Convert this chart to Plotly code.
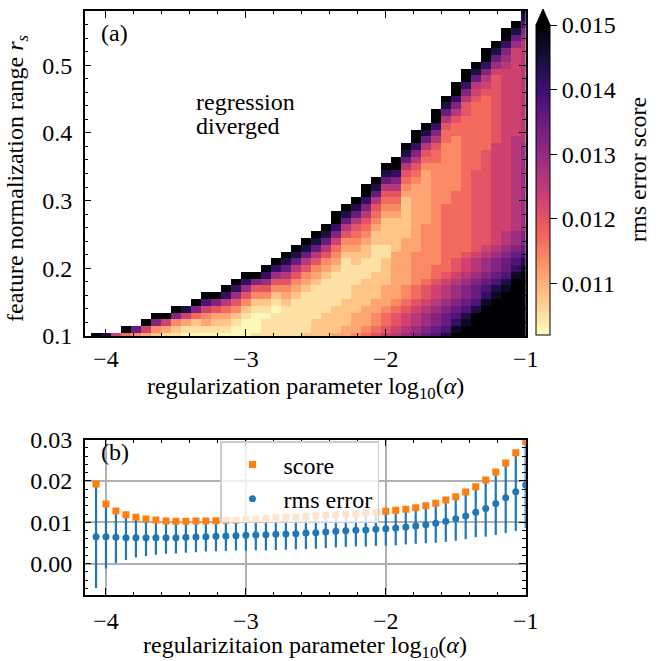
import plotly.graph_objects as go

# ---------------- data ----------------
log_alpha = [-4.071, -4.0, -3.929, -3.857, -3.786, -3.714, -3.643, -3.571, -3.5, -3.429,
             -3.357, -3.286, -3.214, -3.143, -3.071, -3.0, -2.929, -2.857, -2.786, -2.714,
             -2.643, -2.571, -2.5, -2.429, -2.357, -2.286, -2.214, -2.143, -2.071, -2.0,
             -1.929, -1.857, -1.786, -1.714, -1.643, -1.571, -1.5, -1.429, -1.357, -1.286,
             -1.214, -1.143, -1.071, -1.0]

r_s = [0.10, 0.11, 0.12, 0.13, 0.14, 0.15, 0.16, 0.17, 0.18, 0.19,
       0.20, 0.21, 0.22, 0.23, 0.24, 0.25, 0.26, 0.27, 0.28, 0.29,
       0.30, 0.31, 0.32, 0.33, 0.34, 0.35, 0.36, 0.37, 0.38, 0.39,
       0.40, 0.41, 0.42, 0.43, 0.44, 0.45, 0.46, 0.47, 0.48, 0.49,
       0.50, 0.51, 0.52, 0.53, 0.54, 0.55, 0.56, 0.57, 0.58]

# colour-level codes (value of each code)
level_value = {'0': 0.01025, '1': 0.0105, '2': 0.0108, '3': 0.0111, '4': 0.0114,
               '5': 0.0117, '6': 0.0120, '7': 0.0123, '8': 0.0126, '9': 0.0129,
               'A': 0.0132, 'B': 0.0135, 'C': 0.0138, 'D': 0.0141, 'E': 0.0144,
               'F': 0.0147, 'G': 0.0155}

# one string per alpha column, from r_s = 0.10 upwards; cells above the end diverged
score_columns = [
    "G",
    "E",
    "7",
    "5G",
    "4B",
    "37G",
    "24AG",
    "137G",
    "124AG",
    "0137E",
    "0125AG",
    "01347CG",
    "01236AG",
    "012358DG",
    "0012469DG",
    "00012469DG",
    "10001246AG",
    "111012469DG",
    "1111012469DG",
    "1111123468BEG",
    "11111123468BEG",
    "211111123468BEG",
    "2221111123468BEG",
    "22221111123468BEG",
    "322221111123457ADGG",
    "33222211111123468BEG",
    "433322221112234568BEG",
    "5433322221112234568ADGG",
    "654433222211112234568BEG",
    "76554333222211222234568BEG",
    "876654333" "3333" "22222" "34568ADGG",
    "98776544333" "3333" "222222" "34568BEG",
    "A98876554" "4444" "3333333333" "4568ADGG",
    "BA998766544" "444444" "33333333" "4568BEG",
    "CBAA98776554" "4444444444" "4444" "5568ADGG",
    "ECBBA9887655" "55555555" "444444444" "5568BEG",
    "GFDCBA9987665" "555555555" "44444444" "5568ADGG",
    "GGFECBAA9877655" "5555555555" "5555555" "5668ADGG",
    "GGGGECBBA98876" "66666666666" "5555555555" "678BEG",
    "GGGGGFDCBA998766" "666666666666" "55555555" "678ADGG",
    "GGGGGGFECBAA9877" "7777777777777" "6666666666" "79BEG",
    "GGGGGGGFECBBA9887" "7777777777" "7777777777" "777" "89ADGG",
    "GGGGGGGGGFDCBA998" "8888888888888" "7777777777777" "9BEG",
    "GGGGGGGGGGFECBAA9" "999999999999" "888888888888888" "9ACEF",
]

# panel (b)
score = [0.01925, 0.01442, 0.01273, 0.01184, 0.01121, 0.0108, 0.01056, 0.01031, 0.01023, 0.01023,
         0.01031, 0.01031, 0.01039, 0.01047, 0.01056, 0.01072, 0.0108, 0.01097, 0.01112, 0.01121,
         0.01128, 0.01144, 0.0116, 0.01169, 0.01184, 0.012, 0.01208, 0.01224, 0.0124, 0.01265,
         0.0129, 0.01314, 0.01353, 0.01401, 0.01458, 0.01539, 0.01619, 0.01731, 0.0186, 0.02021,
         0.02215, 0.02432, 0.02681, 0.02947]
rms_error = [0.00653, 0.00653, 0.00637, 0.00629, 0.00629, 0.00629, 0.00629, 0.00629, 0.00629, 0.00637,
             0.00645, 0.00653, 0.00661, 0.00669, 0.00677, 0.00685, 0.00693, 0.00701, 0.00709, 0.00717,
             0.00725, 0.00742, 0.0075, 0.00766, 0.00782, 0.00798, 0.00806, 0.00814, 0.0083, 0.00846,
             0.00862, 0.00886, 0.00911, 0.00943, 0.00975, 0.01026, 0.01085, 0.01152, 0.0124, 0.01333,
             0.01455, 0.01592, 0.0174, 0.01901]
rms_std = [0.0124, 0.0077, 0.0062, 0.0054, 0.0048, 0.0044, 0.0041, 0.0039, 0.0038, 0.0037,
           0.0037, 0.0036, 0.0036, 0.0036, 0.0036, 0.0037, 0.0037, 0.0038, 0.0038, 0.0038,
           0.0038, 0.0039, 0.0039, 0.0039, 0.0039, 0.0039, 0.0039, 0.0040, 0.0040, 0.0041,
           0.0042, 0.0042, 0.0043, 0.0045, 0.0047, 0.0050, 0.0053, 0.0056, 0.0060, 0.0068,
           0.0076, 0.0085, 0.0095, 0.0104]

cbar_ticks = [0.011, 0.012, 0.013, 0.014, 0.015]

# ---------------- build grid ----------------
z = [[None] * len(log_alpha) for _ in r_s]
for c, col in enumerate(score_columns):
    for j, ch in enumerate(col):
        if j < len(r_s):
            z[j][c] = level_value[ch]

W, H = 668, 661
def px(x):
    return x / W
def py(y):
    return 1 - y / H

FONT = "Liberation Serif, Times New Roman, serif"
FS = 24

fig = go.Figure()

fig.add_trace(go.Heatmap(
    x=log_alpha, y=r_s, z=z, xaxis="x", yaxis="y",
    colorscale="Magma", reversescale=True, zmin=0.0102, zmax=0.015,
    hoverongaps=False,
    colorbar=dict(
        x=px(536), xanchor="left", y=py(180), yanchor="middle",
        len=310, lenmode="pixels", thickness=14, thicknessmode="pixels",
        xpad=0, ypad=0, outlinecolor="black", outlinewidth=1,
        tickvals=cbar_ticks, ticktext=[f"{v:.3f}" for v in cbar_ticks],
        ticks="outside", ticklen=7, tickwidth=1, tickcolor="black",
        tickfont=dict(family=FONT, size=FS, color="black"),
    ),
))

fig.add_trace(go.Scatter(
    x=log_alpha, y=rms_error, xaxis="x2", yaxis="y2", mode="markers", name="rms error",
    marker=dict(color="#1f77b4", size=7, symbol="circle"),
    error_y=dict(type="data", array=rms_std, color="#1f77b4", thickness=2.2, width=0),
))
fig.add_trace(go.Scatter(
    x=log_alpha, y=score, xaxis="x2", yaxis="y2", mode="markers", name="score",
    marker=dict(color="#ff7f0e", size=7, symbol="square"),
))

common = dict(
    showline=True, linecolor="black", linewidth=1.5, mirror="allticks",
    ticks="inside", ticklen=7, tickwidth=1.3, tickcolor="black",
    tickfont=dict(family=FONT, size=FS, color="black"),
    zeroline=False, automargin=False,
)
xd = [px(84.7), px(525.7)]

fig.update_layout(
    width=W, height=H, margin=dict(l=0, r=0, t=0, b=0, autoexpand=False),
    paper_bgcolor="white", plot_bgcolor="white",
    font=dict(family=FONT, size=FS, color="black"),
    showlegend=True,
    xaxis=dict(domain=xd, anchor="y", range=[-4.152, -1], tick0=-4, dtick=1,
               showgrid=False, ticklabelstandoff=0,
               minor=dict(ticks="inside", ticklen=3.5, tickwidth=1, tickcolor="black", dtick=0.2, tick0=-4, showgrid=False),
               **common),
    yaxis=dict(domain=[py(336), py(11)], anchor="x", range=[0.1, 0.58], tick0=0.1, dtick=0.1,
               tickformat=".1f", showgrid=False, ticklabelstandoff=6,
               minor=dict(ticks="inside", ticklen=3.5, tickwidth=1, tickcolor="black", dtick=0.02, tick0=0.1, showgrid=False),
               **common),
    xaxis2=dict(domain=xd, anchor="y2", range=[-4.152, -1], tick0=-4, dtick=1,
                showgrid=True, gridcolor="#b0b0b0", gridwidth=1.5, ticklabelstandoff=3,
                minor=dict(ticks="inside", ticklen=3.5, tickwidth=1, tickcolor="black", dtick=0.2, tick0=-4, showgrid=False),
                **common),
    yaxis2=dict(domain=[py(595), py(439.5)], anchor="x2", range=[-0.00756, 0.0300], tick0=0, dtick=0.01,
                tickformat=".2f", showgrid=True, gridcolor="#b0b0b0", gridwidth=1.5, ticklabelstandoff=6,
                minor=dict(ticks="inside", ticklen=3.5, tickwidth=1, tickcolor="black", dtick=0.002, tick0=0, showgrid=False),
                **common),
    legend=dict(x=px(220), y=py(441), xanchor="left", yanchor="top",
                bgcolor="rgba(255,255,255,0.8)", bordercolor="#cccccc", borderwidth=1.5,
                font=dict(family=FONT, size=FS, color="black"), traceorder="reversed",
                itemwidth=52),
)

# extend-max arrow on the colour bar
fig.add_shape(type="path", xref="paper", yref="paper",
              path=f"M {px(536)},{py(25)} L {px(550)},{py(25)} L {px(543)},{py(9)} Z",
              fillcolor="black", line=dict(color="black", width=1))

ann = [
    dict(text="(a)", x=px(99), y=py(33), xanchor="left", yanchor="middle"),
    dict(text="(b)", x=px(99), y=py(452), xanchor="left", yanchor="middle"),
    dict(text="regression", x=px(194), y=py(102), xanchor="left", yanchor="middle"),
    dict(text="diverged", x=px(194), y=py(126), xanchor="left", yanchor="middle"),
    dict(text="regularization parameter log<sub>10</sub>(<i>α</i>)", x=px(305), y=py(388),
         xanchor="center", yanchor="middle"),
    dict(text="regularizitaion parameter log<sub>10</sub>(<i>α</i>)", x=px(305), y=py(647),
         xanchor="center", yanchor="middle"),
    dict(text="feature normalization range <i>r<sub>s</sub></i>", x=px(17), y=py(178),
         xanchor="center", yanchor="middle", textangle=-90),
    dict(text="rms error score", x=px(638), y=py(170), xanchor="center", yanchor="middle",
         textangle=-90),
]
for a in ann:
    fig.add_annotation(xref="paper", yref="paper", showarrow=False,
                       font=dict(family=FONT, size=FS, color="black"), **a)

fig.write_html("out.html")
